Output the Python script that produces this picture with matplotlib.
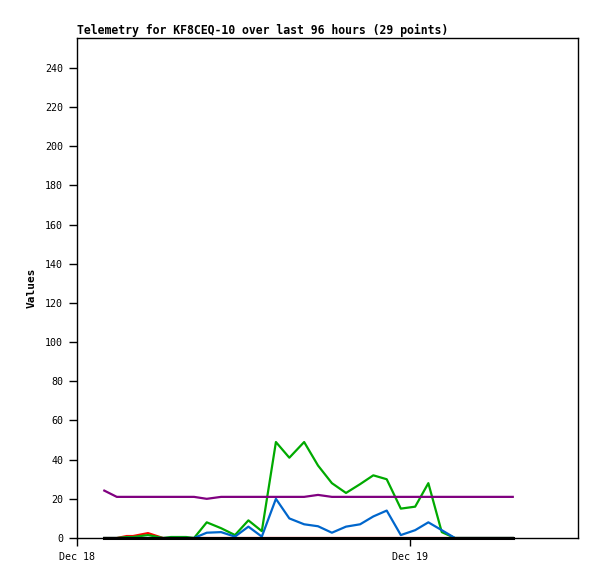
import pandas as pd
import matplotlib
matplotlib.use("Agg")
import matplotlib.pyplot as plt
import matplotlib.dates as mdates

# sample times (Dec 18 -> Dec 19)
times = pd.to_datetime([
    "2023-12-18 01:58", "2023-12-18 02:52", "2023-12-18 03:35", "2023-12-18 04:02",
    "2023-12-18 05:07", "2023-12-18 06:12", "2023-12-18 06:46", "2023-12-18 07:52",
    "2023-12-18 08:26", "2023-12-18 09:21", "2023-12-18 10:23", "2023-12-18 11:23",
    "2023-12-18 12:21", "2023-12-18 13:19", "2023-12-18 14:20", "2023-12-18 15:18",
    "2023-12-18 16:22", "2023-12-18 17:22", "2023-12-18 18:22", "2023-12-18 19:23",
    "2023-12-18 20:24", "2023-12-18 21:21", "2023-12-18 22:19", "2023-12-18 23:20",
    "2023-12-19 00:22", "2023-12-19 01:19", "2023-12-19 02:17", "2023-12-19 03:14",
    "2023-12-19 07:24",
])

red = [0, 0, 1, 1, 2.5, 0, 0, 0, 0, 0, 0, 0, 0, 0, 0, 0, 0, 0, 0, 0,
       0, 0, 0, 0, 0, 0, 0, 0, 0]
green = [0, 0, 0.5, 0.5, 1.5, 0, 0.5, 0.5, 0, 8, 5, 1.5, 9, 3.5, 49, 41, 49, 37, 28, 23,
         27.5, 32, 30, 15, 16, 28, 3, 0, 0]
blue = [0, 0, 0, 0, 0, 0, 0, 0, 0, 2.7, 3, 0.7, 5.8, 0.7, 20, 10, 7, 6, 2.7, 5.8,
        7, 11, 14, 1.5, 4, 8, 4, 0, 0]
purple = [24.2, 21, 21, 21, 21, 21, 21, 21, 21, 20, 21, 21, 21, 21, 21, 21, 21, 22, 21, 21,
          21, 21, 21, 21, 21, 21, 21, 21, 21]
black = [0] * 29

mono = "DejaVu Sans Mono"

fig = plt.figure(figsize=(5.97, 5.79), dpi=100)
ax = fig.add_axes([77/597, 41/579, 501/597, 500/579])

ax.plot(times, red, color="#ff0000", lw=1.6)
ax.plot(times, green, color="#00aa00", lw=1.6)
ax.plot(times, blue, color="#0066cc", lw=1.6)
ax.plot(times, purple, color="#800080", lw=1.6)
ax.plot(times, black, color="#000000", lw=2.2, clip_on=False, zorder=5)

ax.set_xlim(pd.Timestamp("2023-12-18 00:00"), pd.Timestamp("2023-12-19 12:06"))
ax.set_ylim(0, 255.3)
ax.set_yticks(range(0, 241, 20))
ax.xaxis.set_major_locator(mdates.DayLocator())
ax.xaxis.set_major_formatter(mdates.DateFormatter("%b %d"))

ax.tick_params(axis="both", direction="out", length=6, width=1, labelsize=7.2, pad=4)
for lab in ax.get_xticklabels() + ax.get_yticklabels():
    lab.set_family(mono)
for s in ax.spines.values():
    s.set_linewidth(1)

ax.set_ylabel("Values", fontfamily=mono, fontweight="bold", fontsize=8, labelpad=6)
ax.set_title("Telemetry for KF8CEQ-10 over last 96 hours (29 points)", loc="left",
             fontfamily=mono, fontweight="bold", fontsize=8.3, pad=3)

fig.savefig("out.png", dpi=100)
